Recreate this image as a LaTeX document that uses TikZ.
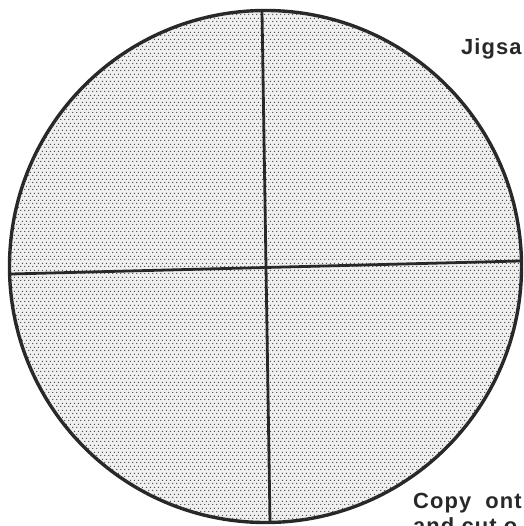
\documentclass[tikz,border=0pt]{standalone}
\usepackage{fontspec}
\setmainfont{Liberation Sans}
\usetikzlibrary{patterns.meta}
\definecolor{inkdark}{RGB}{40,40,40}
\tikzdeclarepattern{name=stipple, type=uncolored,
    bounding box={(0,0) and (4bp,6.6bp)},
    tile size={(4bp,6.6bp)},
    code={
        \fill (1bp,1.65bp) circle (0.75bp);
        \fill (3bp,4.95bp) circle (0.75bp);
    }}
\tikzset{
    disc/.style={line width=3.4pt, draw=inkdark, fill=black!6, postaction={pattern={stipple}, pattern color=inkdark!90}},
    cut/.style={line width=2.8pt, draw=inkdark},
    caption/.style={font=\bfseries\fontsize{22}{24}\selectfont\addfontfeature{LetterSpace=5}, text=inkdark, inner sep=0pt, anchor=base west}
}

\begin{document}
\begin{tikzpicture}[x=1bp, y=-1bp]
    \useasboundingbox (0,0) rectangle (524,526);
    \fill[white] (0,0) rectangle (524,526);
    % the round sheet with its stipple
    \coordinate (centre) at (265.5,266.5);
    \draw[disc] (centre) circle (256);
    % two cuts across it
    \coordinate (top) at (262,11);
    \coordinate (bottom) at (270,522);
    \coordinate (left) at (11,274);
    \coordinate (right) at (520,261);
    \draw[cut] (top) -- (bottom);
    \draw[cut] (left) -- (right);
    % captions, cut by the page edge as in the source
    \node[caption] (title) at (461,55) {Jigsa};
    \node[caption] (note) at (413,508) {Copy\hspace{7bp} ont};
    \node[caption] (note2) at (413,533) {and cut o};
\end{tikzpicture}
\end{document}
